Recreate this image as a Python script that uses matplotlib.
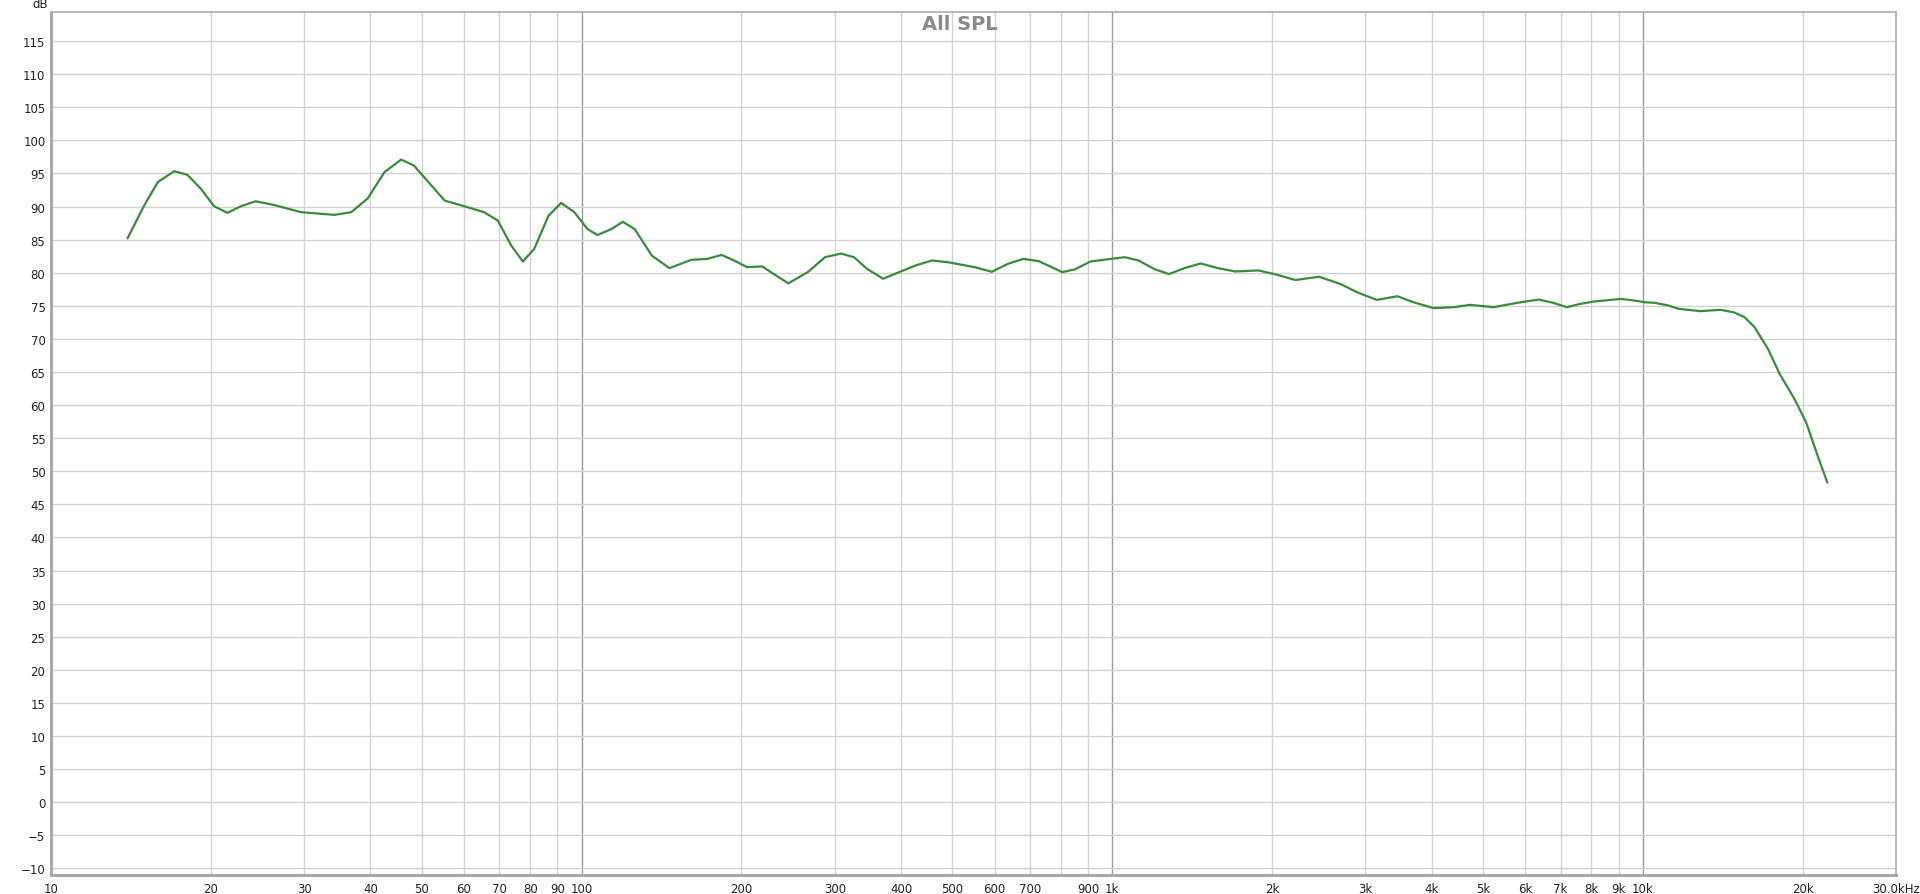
import numpy as np
import matplotlib
matplotlib.use("Agg")
import matplotlib.pyplot as plt
from matplotlib.ticker import FixedLocator, NullFormatter

# ---- data (Hz, dB SPL) ------------------------------------------------------
freq = [13.94, 14.98, 15.9, 17.07, 18.07, 19.16, 20.3, 21.5, 22.8, 24.3,
        26.3, 29.6, 34.2, 36.8, 39.5, 42.5, 45.7, 48.3, 52.1, 55.2, 60.1,
        65.5, 69.5, 73.7, 77.5, 81.4, 86.6, 91.5, 96.9, 102.6, 107.1, 113.8,
        119.6, 125.9, 135.6, 146.4, 160.9, 172.6, 183.6, 193.9, 204.9, 219.0,
        230.3, 245.2, 266.8, 287.6, 308.3, 326.1, 345, 370, 397, 426, 457,
        490, 550, 593, 636, 680, 727, 805, 850, 910, 996, 1056, 1121, 1205,
        1279, 1368, 1467, 1582, 1705, 1887, 2044, 2215, 2452, 2693, 2894,
        3153, 3447, 3696, 4034, 4405, 4725, 5231, 5793, 6358, 6785, 7193,
        7626, 8082, 9095, 9642, 10080, 10540, 11180, 11680, 12830, 14020,
        14870, 15540, 16230, 17210, 18110, 19320, 20310, 21340, 22270]
spl = [85.2, 90.15, 93.7, 95.35, 94.8, 92.7, 90.05, 89.05, 90.05, 90.8,
       90.25, 89.15, 88.75, 89.15, 91.2, 95.2, 97.1, 96.2, 93.2, 90.9, 90.05,
       89.15, 87.9, 84.1, 81.7, 83.6, 88.6, 90.55, 89.15, 86.6, 85.7, 86.6,
       87.7, 86.6, 82.6, 80.7, 81.95, 82.1, 82.7, 81.85, 80.85, 80.95,
       79.8, 78.4, 80.1, 82.35, 82.9, 82.35, 80.6, 79.1, 80.1, 81.1, 81.85,
       81.6, 80.85, 80.15, 81.35, 82.1, 81.75, 80.1, 80.5, 81.7, 82.1, 82.35,
       81.85, 80.5, 79.8, 80.7, 81.4, 80.7, 80.2, 80.35, 79.7, 78.9, 79.4,
       78.3, 77.05, 75.9, 76.45, 75.55, 74.65, 74.8, 75.15, 74.8, 75.45,
       75.95, 75.45, 74.8, 75.3, 75.65, 76.05, 75.8, 75.55, 75.45, 75.05,
       74.55, 74.2, 74.4, 74.0, 73.3, 71.8, 68.5, 64.7, 60.9, 57.4, 52.4,
       48.3]

major_ticks = [100, 1000, 10000]
minor_ticks = [20, 30, 40, 50, 60, 70, 80, 90,
               200, 300, 400, 500, 600, 700, 800, 900,
               2000, 3000, 4000, 5000, 6000, 7000, 8000, 9000, 20000]
xlabels = {10: "10", 20: "20", 30: "30", 40: "40", 50: "50", 60: "60",
           70: "70", 80: "80", 90: "90", 100: "100", 200: "200", 300: "300",
           400: "400", 500: "500", 600: "600", 700: "700", 900: "900",
           1000: "1k", 2000: "2k", 3000: "3k", 4000: "4k", 5000: "5k",
           6000: "6k", 7000: "7k", 8000: "8k", 9000: "9k", 10000: "10k",
           20000: "20k", 30000: "30.0kHz"}
yticks = list(range(-10, 120, 5))

W, H = 1920, 895
fig = plt.figure(figsize=(W / 100, H / 100), dpi=100)
fig.patch.set_facecolor("white")
ax = fig.add_axes([51 / W, 19 / H, (1896 - 51) / W, (876 - 13) / H])
ax.set_xscale("log")
ax.set_xlim(10, 30000)
ax.set_ylim(-11, 119.4)

for f in minor_ticks:
    ax.axvline(f, color="#d2d2d2", lw=1.0, zorder=1)
for f in major_ticks:
    ax.axvline(f, color="#9a9a9a", lw=1.0, zorder=1)
for y in yticks:
    ax.axhline(y, color="#d2d2d2", lw=1.0, zorder=1)

ax.plot(freq, spl, color="#3b8a3e", lw=1.6, zorder=3,
        solid_joinstyle="round", solid_capstyle="round")

ax.xaxis.set_major_locator(FixedLocator(list(xlabels.keys())))
ax.xaxis.set_minor_locator(FixedLocator([]))
ax.xaxis.set_minor_formatter(NullFormatter())
ax.set_xticklabels(list(xlabels.values()))
ax.set_yticks(yticks)
ax.set_yticklabels([str(y).replace("-", "\u2212") for y in yticks])
ax.tick_params(axis="both", length=0, labelsize=8.5, colors="#222222", pad=4)
ax.tick_params(axis="x", pad=5)

for s in ("left", "bottom"):
    ax.spines[s].set_color("#a8a8a8")
    ax.spines[s].set_linewidth(2.2)
for s in ("right", "top"):
    ax.spines[s].set_color("#b8b8b8")
    ax.spines[s].set_linewidth(1.4)

fig.text(960 / W, 1.0 - 24 / H, "All SPL", ha="center", va="center",
         fontsize=14, fontweight="bold", color="#8a8a8a", zorder=4)
fig.text(40 / W, 1.0 - 4 / H, "dB", ha="center", va="center", fontsize=8.5,
         color="#222222")

fig.savefig("out.png", dpi=100, facecolor="white")
